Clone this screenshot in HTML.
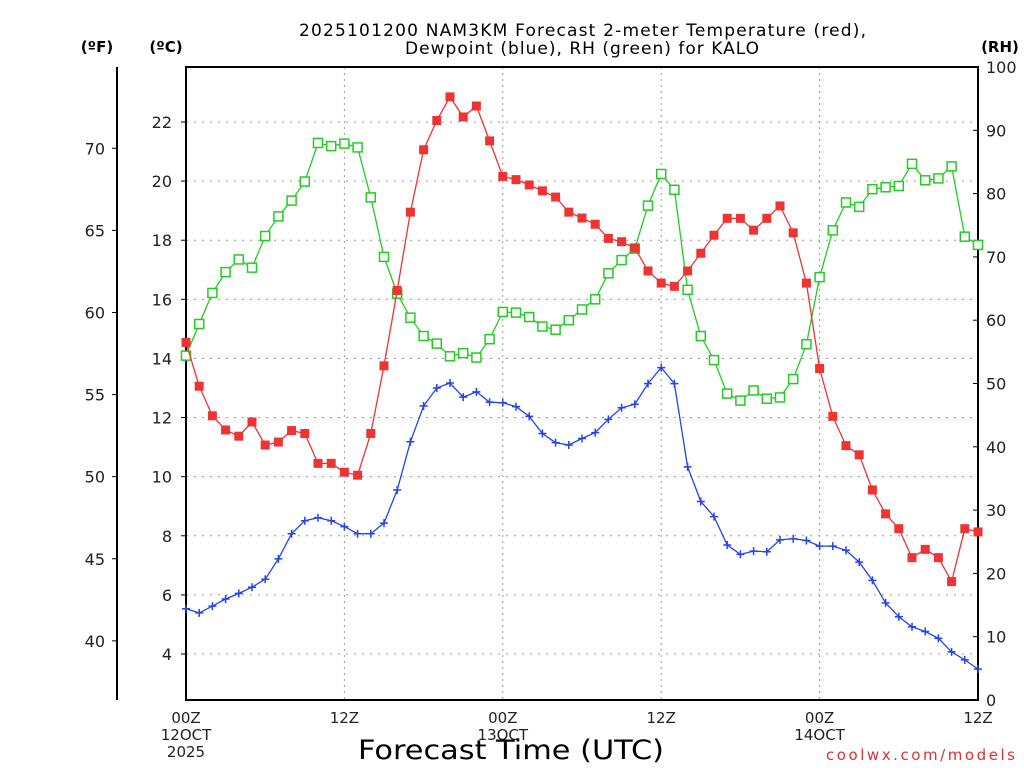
<!DOCTYPE html>
<html><head><meta charset="utf-8"><style>
body{margin:0;background:#fff;}
svg text{font-family:"DejaVu Sans","Liberation Sans",sans-serif;}
</style></head><body>
<svg id="chart" width="1024" height="768" viewBox="0 0 1024 768" xmlns="http://www.w3.org/2000/svg">
<g id="grid"></g>
<g id="axes"></g>
<g id="series"></g>
<text x="299" y="36" font-size="17" textLength="567" lengthAdjust="spacing">2025101200 NAM3KM Forecast 2-meter Temperature (red),</text>
<text x="405" y="54" font-size="17" textLength="354" lengthAdjust="spacing">Dewpoint (blue), RH (green) for KALO</text>
<text x="97" y="52" font-size="15" font-weight="bold" text-anchor="middle">(ºF)</text>
<text x="166" y="52" font-size="15" font-weight="bold" text-anchor="middle">(ºC)</text>
<text x="1000" y="52" font-size="15" font-weight="bold" text-anchor="middle">(RH)</text>
<text x="358" y="759" font-size="27" textLength="306" lengthAdjust="spacingAndGlyphs">Forecast Time (UTC)</text>
<text x="826" y="760" font-size="15" fill="#e03030" textLength="189" lengthAdjust="spacing">coolwx.com/models</text>
</svg>
<script>
const hours = [0,1,2,3,4,5,6,7,8,9,10,11,12,13,14,15,16,17,18,19,20,21,22,23,24,25,26,27,28,29,30,31,32,33,34,35,36,37,38,39,40,41,42,43,44,45,46,47,48,49,50,51,52,53,54,55,56,57,58,59,60];
const tempC = [14.54,13.06,12.06,11.58,11.37,11.85,11.07,11.17,11.56,11.46,10.45,10.45,10.15,10.05,11.46,13.75,16.3,18.95,21.06,22.05,22.85,22.17,22.54,21.36,20.16,20.05,19.87,19.67,19.46,18.95,18.75,18.54,18.06,17.95,17.74,16.96,16.55,16.44,16.96,17.56,18.17,18.74,18.74,18.34,18.74,19.16,18.25,16.55,13.66,12.04,11.05,10.74,9.55,8.74,8.24,7.26,7.54,7.26,6.45,8.24,8.13];
const dewC = [5.53,5.39,5.62,5.86,6.05,6.26,6.53,7.22,8.07,8.51,8.61,8.51,8.31,8.07,8.07,8.43,9.55,11.18,12.39,13.0,13.17,12.69,12.87,12.52,12.5,12.37,12.04,11.46,11.15,11.07,11.29,11.49,11.94,12.33,12.45,13.15,13.69,13.15,10.33,9.16,8.65,7.69,7.37,7.48,7.46,7.86,7.9,7.84,7.65,7.65,7.51,7.11,6.49,5.73,5.26,4.92,4.76,4.53,4.07,3.8,3.49];
const rh = [54.4,59.4,64.3,67.6,69.6,68.3,73.3,76.4,78.9,81.9,88.0,87.5,87.9,87.3,79.4,70.0,64.2,60.4,57.5,56.3,54.3,54.8,54.1,57.0,61.3,61.2,60.5,59.0,58.5,60.0,61.7,63.3,67.4,69.5,71.3,78.1,83.1,80.6,64.8,57.5,53.7,48.4,47.3,48.9,47.6,47.8,50.7,56.2,66.8,74.2,78.6,77.9,80.7,81.0,81.2,84.7,82.1,82.4,84.3,73.2,71.9];
const cTicks = [4,6,8,10,12,14,16,18,20,22];
const fTicks = [40,45,50,55,60,65,70];
const rhTicks = [0,10,20,30,40,50,60,70,80,90,100];
const xTickHours = [0,12,24,36,48,60];
const xTickLabels = [["00Z","12OCT","2025"],["12Z"],["00Z","13OCT"],["12Z"],["00Z","14OCT"],["12Z"]];

const L=186,R=978,T=67,B=700;
const xs=h=>L+(R-L)*h/60;
const yC=c=>122+(22-c)*(532/18);
const yF=f=>yC((f-32)/1.8);
const yRH=v=>B-(B-T)*v/100;
const NS="http://www.w3.org/2000/svg";
function mk(tag,attrs,parent,txt){const e=document.createElementNS(NS,tag);for(const k in attrs)e.setAttribute(k,attrs[k]);if(txt!==undefined)e.textContent=txt;parent.appendChild(e);return e;}
const grid=document.getElementById('grid'),axes=document.getElementById('axes'),series=document.getElementById('series');

cTicks.forEach(c=>{const y=yC(c);
 const g=mk('line',{x1:L,x2:R,y1:y,y2:y,stroke:'#999','stroke-width':1,'stroke-dasharray':'2,6'},grid);
 
 
 const t=mk('line',{x1:L-5,x2:L,y1:y,y2:y,stroke:'#000'},axes);
 
 
 const l=mk('text',{x:172,y:y+6,'font-size':16,'text-anchor':'end',fill:'#222'},axes,String(c));
 
 
});
xTickHours.forEach((h,i)=>{const x=xs(h);
 if(h>0&&h<60){const g=mk('line',{x1:x,x2:x,y1:T,y2:B,stroke:'#999','stroke-width':1,'stroke-dasharray':'2,4'},grid);
 
 }
 xTickLabels[i].forEach((s,j)=>{const t=mk('text',{x:x,y:723+j*17,'font-size':15,'text-anchor':'middle',fill:'#222'},axes,s);
 
 });
});
fTicks.forEach(f=>{const y=yF(f);
 const t=mk('line',{x1:112,x2:117,y1:y,y2:y,stroke:'#000'},axes);
 
 
 const l=mk('text',{x:105,y:y+6,'font-size':16,'text-anchor':'end',fill:'#222'},axes,String(f));
 
 
});
rhTicks.forEach(v=>{const y=yRH(v);
 const t=mk('line',{x1:R-5,x2:R,y1:y,y2:y,stroke:'#000'},axes);
 
 
 const l=mk('text',{x:986,y:y+6,'font-size':16,'text-anchor':'start',fill:'#222'},axes,String(v));
 
 
});
const fr=mk('rect',{x:L,y:T,width:R-L,height:B-T,fill:'none',stroke:'#000','stroke-width':2},axes);


const fa=mk('line',{x1:117,x2:117,y1:T,y2:B,stroke:'#000','stroke-width':2},axes);



function drawSeries(vals,yf,color,kind,name){
 const g=mk('g',{},series);
 
 
 const pts=hours.map((h,i)=>xs(h).toFixed(1)+','+yf(vals[i]).toFixed(1)).join(' ');
 const pl=mk('polyline',{points:pts,fill:'none',stroke:color,'stroke-width':1.3},g);
 
 
 hours.forEach((h,i)=>{const x=xs(h),y=yf(vals[i]);let m;
  if(kind==='fill')m=mk('rect',{x:x-4.5,y:y-4.5,width:9,height:9,fill:color},g);
  else if(kind==='open')m=mk('rect',{x:x-4.5,y:y-4.5,width:9,height:9,fill:'#fff',stroke:color,'stroke-width':1.5},g);
  else m=mk('path',{d:`M${x-4},${y}H${x+4}M${x},${y-4}V${y+4}`,stroke:color,'stroke-width':1.5},g);
  
  
 });
}
drawSeries(rh,yRH,'#22cc22','open','rh');
drawSeries(dewC,yC,'#2244ee','plus','dewpoint');
drawSeries(tempC,yC,'#ee3333','fill','temperature');
</script>
</body></html>
